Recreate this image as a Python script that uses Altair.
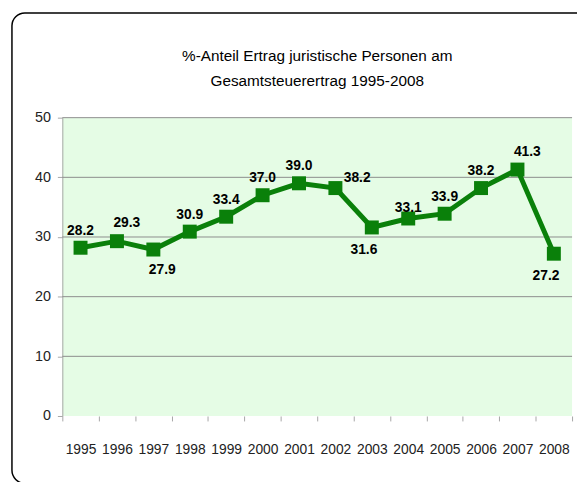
import altair as alt
import pandas as pd

years = ["1995", "1996", "1997", "1998", "1999", "2000", "2001",
         "2002", "2003", "2004", "2005", "2006", "2007", "2008"]
values = [28.2, 29.3, 27.9, 30.9, 33.4, 37.0, 39.0,
          38.2, 31.6, 33.1, 33.9, 38.2, 41.3, 27.2]
placement = ["up", "upright", "downright", "up", "up", "up", "up",
             "right", "downleft", "upclose", "up", "up", "upright", "downleft"]
y_ticks = [0, 10, 20, 30, 40, 50]
grid_values = [10, 20, 30, 40, 50]

FONT = "Liberation Sans, Arial, sans-serif"
GREEN = "#0A800A"

df = pd.DataFrame({"year": years, "value": values, "place": placement})
grid_df = pd.DataFrame({"g": grid_values})

xenc = alt.X("year:N", sort=years, title=None,
             scale=alt.Scale(paddingInner=0, paddingOuter=0),
             axis=alt.Axis(tickBand="extent", domain=False, ticks=True,
                           tickColor="#A6A6A6", tickSize=5, labelAngle=0,
                           labelFont=FONT, labelFontSize=14, labelColor="#222222",
                           labelPadding=22, grid=False))
yscale = alt.Scale(domain=[0, 50], nice=False, zero=True)

frame = alt.Chart(pd.DataFrame({"a": [0]})).mark_rect(
    fill="white", fillOpacity=0, stroke="black", strokeWidth=1.5,
    cornerRadius=13, clip=False
).encode(x=alt.value(-51), x2=alt.value(540), y=alt.value(-106), y2=alt.value(370))

grid = alt.Chart(grid_df).mark_rule(color="#8C8C8C", strokeWidth=1).encode(
    y=alt.Y("g:Q", scale=yscale,
            axis=alt.Axis(values=y_ticks, grid=False, domain=True, domainColor="#A6A6A6",
                          ticks=True, tickColor="#A6A6A6", tickSize=5,
                          labelFont=FONT, labelFontSize=14.5, labelColor="#222222",
                          labelPadding=7),
            title=None)
)

base = alt.Chart(df).encode(x=xenc, y=alt.Y("value:Q", scale=yscale))

line = base.mark_line(color=GREEN, strokeWidth=5)
pts = base.mark_point(shape="square", filled=True, size=200, color=GREEN, opacity=1)

offsets = {
    "up": (0, -17),
    "upright": (10, -18),
    "downright": (9, 21),
    "right": (22, -10),
    "downleft": (-8, 23),
    "upclose": (0, -11),
}
label_layers = []
for key, (dx, dy) in offsets.items():
    label_layers.append(
        base.transform_filter(alt.datum.place == key).mark_text(
            font=FONT, fontSize=14, fontWeight="bold", color="black",
            dx=dx, dy=dy, baseline="middle"
        ).encode(text=alt.Text("value:Q", format=".1f"))
    )

chart = alt.layer(frame, grid, line, pts, *label_layers).properties(
    width=516, height=302,
    autosize=alt.AutoSizeParams(type="none"),
    padding={"left": 55, "top": 108, "right": 5, "bottom": 80},
    title=alt.TitleParams(
        text=["%-Anteil Ertrag juristische Personen am", "Gesamtsteuerertrag 1995-2008"],
        font=FONT, fontSize=15.5, fontWeight="normal", color="black",
        anchor="middle", lineHeight=25, offset=-78, dx=0, frame="group"
    ),
    background="white"
).configure_view(fill="#E5FCE5", stroke=None)

chart.save("out.html", embed_options={"renderer": "svg", "actions": False})
